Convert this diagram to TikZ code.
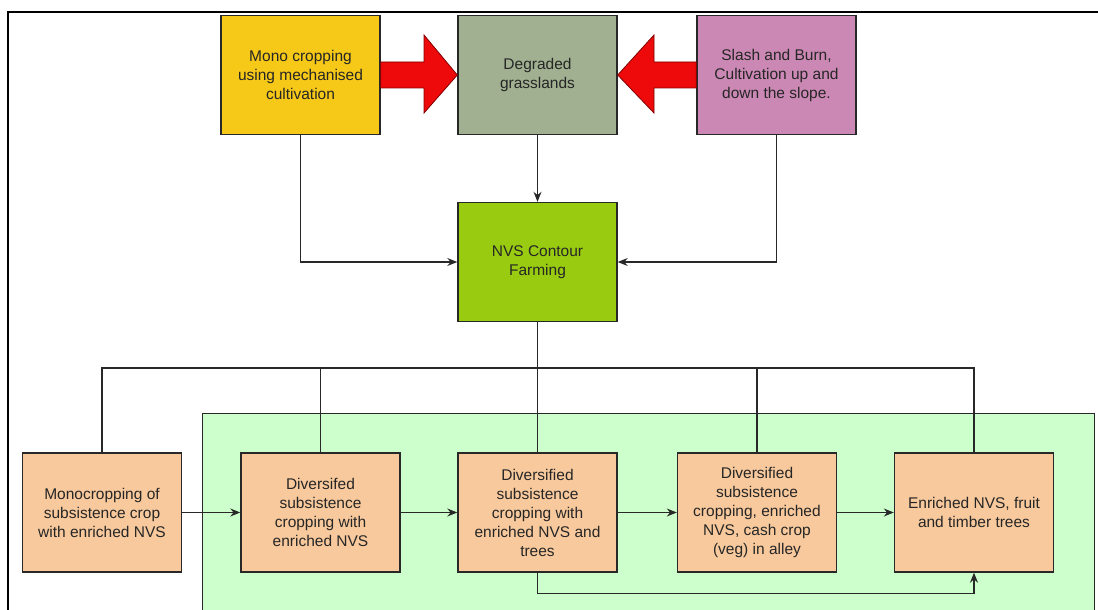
\documentclass[tikz,border=0pt]{standalone}
\usepackage{fontspec}
\setmainfont{Liberation Sans}
\usetikzlibrary{arrows.meta}
\definecolor{cmono}{RGB}{246,200,24}
\definecolor{cdeg}{RGB}{160,176,144}
\definecolor{cslash}{RGB}{204,136,180}
\definecolor{cnvs}{RGB}{153,204,17}
\definecolor{corange}{RGB}{248,201,156}
\definecolor{cbg}{RGB}{204,255,204}
\definecolor{cred}{RGB}{238,10,10}
\definecolor{cdarkred}{RGB}{130,0,0}
\definecolor{cline}{RGB}{40,40,40}
\tikzset{
  box/.style={draw=cline, line width=1.4pt, minimum width=159pt, minimum height=119pt,
    inner sep=0pt, align=center, text=black!85, font=\fontsize{15.5}{19}\selectfont},
  conn/.style={draw=cline, line width=1.2pt},
  arr/.style={conn, -{Stealth[length=10pt,width=8pt]}},
  bigarrow/.style={fill=cred, draw=cdarkred, line width=0.8pt, line join=miter}
}
\begin{document}
\begin{tikzpicture}[x=1pt,y=-1pt]
\useasboundingbox (0,0) rectangle (1098,610);
% green background
\fill[cbg] (202,413) rectangle (1094,615);
\draw[cline, line width=1pt] (202,615) -- (202,413) -- (1094,413) -- (1094,615);
% frame
\draw[black, line width=2pt] (8,612) -- (8,12) -- (1099,12);
% top row
\node[box, fill=cmono] (mono) at (300.5,75) {Mono cropping\\using mechanised\\cultivation};
\node[box, fill=cdeg] (deg) at (537.5,75) {Degraded\\grasslands};
\node[box, fill=cslash] (slash) at (776.5,75) {Slash and Burn,\\Cultivation up and\\down the slope.};
\node[box, fill=cnvs] (nvs) at (537.5,262) {NVS Contour\\Farming};
% big red arrows
\draw[bigarrow] (mono.east |- 0,62) -- (424,62) -- (424,35) -- (deg.west) -- (424,113) -- (424,88) -- (mono.east |- 0,88) -- cycle;
\draw[bigarrow] (slash.west |- 0,62) -- (654,62) -- (654,35) -- (deg.east) -- (654,113) -- (654,88) -- (slash.west |- 0,88) -- cycle;
% bottom row
\node[box, fill=corange] (b1) at (102,512.5) {Monocropping of\\subsistence crop\\with enriched NVS};
\node[box, fill=corange] (b2) at (320.5,512.5) {Diversifed\\subsistence\\cropping with\\enriched NVS};
\node[box, fill=corange] (b3) at (537.5,512.5) {Diversified\\subsistence\\cropping with\\enriched NVS and\\trees};
\node[box, fill=corange] (b4) at (757,512.5) {Diversified\\subsistence\\cropping, enriched\\NVS, cash crop\\(veg) in alley};
\node[box, fill=corange] (b5) at (974,512.5) {Enriched NVS, fruit\\and timber trees};
% connectors top
\draw[arr] (deg) -- (nvs);
\draw[arr] (mono.south) |- (nvs.west);
\draw[arr] (slash.south) |- (nvs.east);
% bus
\coordinate (bus) at (537.5,368);
\draw[conn] (nvs.south) -- (b3.north);
\draw[conn] (b1.north) -- (b1.north |- bus) -- (b5.north |- bus) -- (b5.north);
\draw[conn] (b2.north |- bus) -- (b2.north);
\draw[conn] (b4.north |- bus) -- (b4.north);
% horizontal arrows
\draw[arr] (b1) -- (b2);
\draw[arr] (b2) -- (b3);
\draw[arr] (b3) -- (b4);
\draw[arr] (b4) -- (b5);
\draw[arr] (b3.south) -- ++(0,21) -| (b5.south);
\end{tikzpicture}
\end{document}
